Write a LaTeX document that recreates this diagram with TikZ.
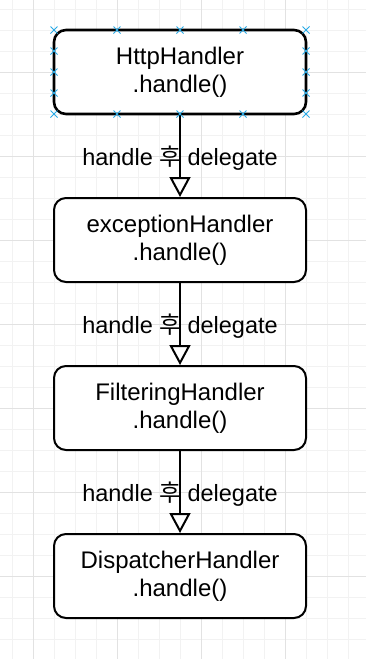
\documentclass[tikz,border=0pt]{standalone}
\usepackage{fontspec}
\setmainfont{Liberation Sans}
\newfontfamily\krfont{Noto Sans CJK KR}
\usetikzlibrary{arrows.meta}
\definecolor{gridminor}{RGB}{242,242,242}
\definecolor{gridmajor}{RGB}{226,226,226}
\definecolor{selblue}{RGB}{41,170,230}
\tikzset{
  handlerbox/.style={draw=black, line width=2pt, rounded corners=12pt,
    minimum width=252pt, minimum height=84pt, align=center, fill=white,
    font=\fontsize{24}{28}\selectfont, inner sep=0pt},
  flowarrow/.style={draw=black, line width=2pt,
    -{Triangle[length=20pt,width=21pt,fill=white]}},
  edgelabel/.style={font=\fontsize{23.5}{28}\selectfont, anchor=base, inner sep=0pt},
  selmark/.style={draw=selblue, line width=1pt}
}
\begin{document}
\begin{tikzpicture}[x=1pt,y=-1pt]
\useasboundingbox (0,0) rectangle (366,659);
\fill[white] (0,0) rectangle (366,659);
% grid
\foreach \k in {0,...,16} {\draw[gridminor, line width=1pt] (12+21*\k,0) -- (12+21*\k,659);}
\foreach \k in {0,...,31} {\draw[gridminor, line width=1pt] (0,9+21*\k) -- (366,9+21*\k);}
\foreach \k in {0,...,3} {\draw[gridmajor, line width=1pt] (33+84*\k,0) -- (33+84*\k,659);}
\foreach \k in {0,...,7} {\draw[gridmajor, line width=1pt] (0,72+84*\k) -- (366,72+84*\k);}
% boxes
\node[handlerbox, line width=2.6pt] (h1) at (180,72) {HttpHandler\\.handle()};
\node[handlerbox] (h2) at (180,240) {exceptionHandler\\.handle()};
\node[handlerbox] (h3) at (180,408) {FilteringHandler\\.handle()};
\node[handlerbox] (h4) at (180,576) {DispatcherHandler\\.handle()};
% connectors
\draw[flowarrow] (h1.south) -- node[edgelabel, pos=0.5, yshift=-9pt] {handle {\krfont 후} delegate} (h2.north);
\draw[flowarrow] (h2.south) -- node[edgelabel, pos=0.5, yshift=-9pt] {handle {\krfont 후} delegate} (h3.north);
\draw[flowarrow] (h3.south) -- node[edgelabel, pos=0.5, yshift=-9pt] {handle {\krfont 후} delegate} (h4.north);
% selection markers
\foreach \x in {54,117,180,243,306} {
  \foreach \y in {30,114} {
    \draw[selmark] (\x-3.5,\y-3.5) -- (\x+3.5,\y+3.5) (\x-3.5,\y+3.5) -- (\x+3.5,\y-3.5);
  }
}
\foreach \x in {54,306} {
  \foreach \y in {51,72,93} {
    \draw[selmark] (\x-3.5,\y-3.5) -- (\x+3.5,\y+3.5) (\x-3.5,\y+3.5) -- (\x+3.5,\y-3.5);
  }
}
\end{tikzpicture}
\end{document}
